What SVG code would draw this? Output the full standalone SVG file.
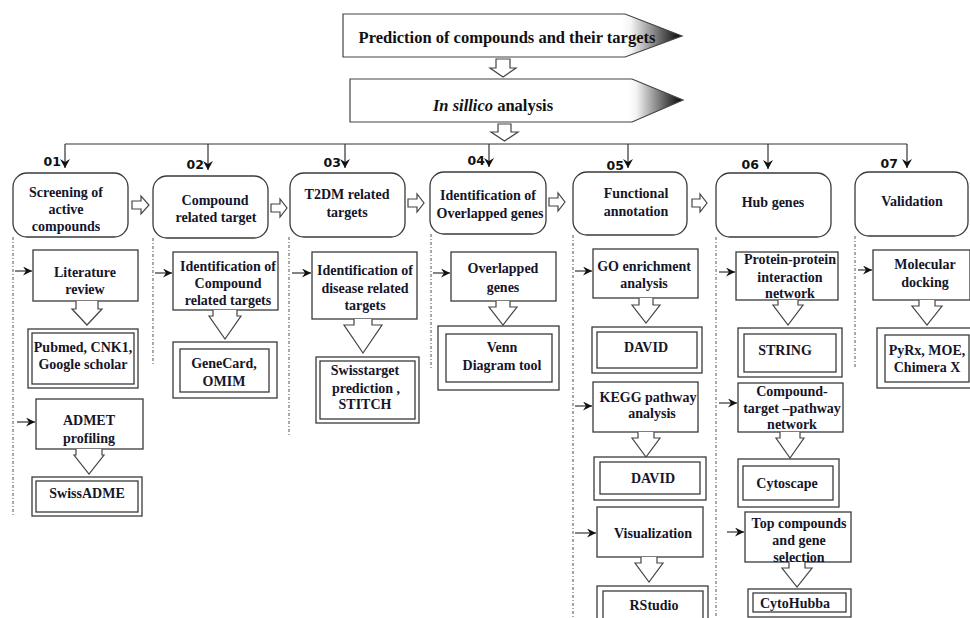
<svg xmlns="http://www.w3.org/2000/svg" width="970" height="618" viewBox="0 0 970 618">
<defs>
<style>
.box{fill:#fff;stroke:#3a3a3a;stroke-width:1.3}
.t{font-family:"Liberation Serif","Times New Roman",serif;font-weight:bold;font-size:14px;fill:#15152a;text-anchor:middle}
.ban{font-family:"Liberation Serif","Times New Roman",serif;font-weight:bold;font-size:16.5px;fill:#111;text-anchor:middle}
.num{font-family:"DejaVu Sans",Verdana,sans-serif;font-weight:bold;font-size:12.5px;fill:#111;text-anchor:end}
.dot{stroke:#555;stroke-width:1;stroke-dasharray:3 2 1 2;fill:none}
.hol{fill:#fff;stroke:#444;stroke-width:1.2;stroke-linejoin:miter}
.conn{stroke:#333;stroke-width:1.2;fill:none}
</style>
<marker id="ah" markerUnits="userSpaceOnUse" markerWidth="10" markerHeight="10" refX="9" refY="5" orient="auto">
<path d="M0,0 L9,5 L0,10 L3,5 Z" fill="#111"/>
</marker>
<marker id="ahs" markerUnits="userSpaceOnUse" markerWidth="10" markerHeight="9" refX="9" refY="4.5" orient="auto">
<path d="M0,0 L9,4.5 L0,9 L3,4.5 Z" fill="#111"/>
</marker>
<linearGradient id="g1" gradientUnits="userSpaceOnUse" x1="622" y1="0" x2="682" y2="0">
<stop offset="0" stop-color="#fff"/><stop offset="0.15" stop-color="#f4f4f4"/><stop offset="1" stop-color="#000"/>
</linearGradient>
<linearGradient id="g2" gradientUnits="userSpaceOnUse" x1="628" y1="0" x2="683" y2="0">
<stop offset="0" stop-color="#fff"/><stop offset="0.15" stop-color="#f4f4f4"/><stop offset="1" stop-color="#000"/>
</linearGradient>
</defs>

<g id="banner1">
<polygon points="343,14 625,14 682,36 625,57 343,57" fill="url(#g1)" stroke="#444" stroke-width="1.2"/>
<text class="ban" x="507" y="43">Prediction of compounds and their targets</text>
</g>
<g id="banner2">
<polygon points="350,79 632,79 683,100 632,122 350,122" fill="url(#g2)" stroke="#444" stroke-width="1.2"/>
<text class="ban" x="493" y="111"><tspan font-style="italic">In sillico</tspan> analysis</text>
</g>

<g id="connectors">
<path class="hol" d="M496,59 L510,59 L510,68 L516,68 L503,77 L490,68 L496,68 Z"/>
<path class="hol" d="M498,124 L511,124 L511,132 L518,132 L504.5,141 L491,132 L498,132 Z"/>
<path class="conn" d="M65,144 L907,144" stroke="#555"/>
<path class="conn" d="M65,144 L65,168" marker-end="url(#ah)"/>
<path class="conn" d="M208,144 L208,170" marker-end="url(#ah)"/>
<path class="conn" d="M345,144 L345,168" marker-end="url(#ah)"/>
<path class="conn" d="M489,144 L489,167" marker-end="url(#ah)"/>
<path class="conn" d="M628,144 L628,168" marker-end="url(#ah)"/>
<path class="conn" d="M768,144 L768,169" marker-end="url(#ah)"/>
<path class="conn" d="M907,144 L907,168" marker-end="url(#ah)"/>
<!-- right hollow arrows -->
<path class="hol" d="M132,201 L141,201 L141,196 L149,205 L141,214 L141,209 L132,209 Z"/>
<path class="hol" d="M271,204 L280,204 L280,199 L287,208 L280,217 L280,212 L271,212 Z"/>
<path class="hol" d="M408,199 L417,199 L417,194 L424,203 L417,212 L417,207 L408,207 Z"/>
<path class="hol" d="M549,198 L558,198 L558,193 L565,202 L558,211 L558,206 L549,206 Z"/>
<path class="hol" d="M692,199 L700,199 L700,194 L707,203 L700,212 L700,207 L692,207 Z"/>
<!-- dotted column lines -->
<path class="dot" d="M13,237 L13,515"/>
<path class="dot" d="M153,238 L153,366"/>
<path class="dot" d="M289,237 L289,437"/>
<path class="dot" d="M431,234 L431,370"/>
<path class="dot" d="M573,235 L573,618"/>
<path class="dot" d="M716,237 L716,618"/>
<path class="dot" d="M855,236 L855,367"/>
<!-- small side arrows -->
<path class="conn" d="M15,271 L32,271" marker-end="url(#ahs)"/>
<path class="conn" d="M17,422 L35,422" marker-end="url(#ahs)"/>
<path class="conn" d="M155,273 L172,273" marker-end="url(#ahs)"/>
<path class="conn" d="M292,273 L311,273" marker-end="url(#ahs)"/>
<path class="conn" d="M433,273 L450,273" marker-end="url(#ahs)"/>
<path class="conn" d="M575,271 L592,271" marker-end="url(#ahs)"/>
<path class="conn" d="M575,406 L592,406" marker-end="url(#ahs)"/>
<path class="conn" d="M575,533 L596,533" marker-end="url(#ahs)"/>
<path class="conn" d="M719,272 L735,272" marker-end="url(#ahs)"/>
<path class="conn" d="M719,403 L737,403" marker-end="url(#ahs)"/>
<path class="conn" d="M727,532 L744,532" marker-end="url(#ahs)"/>
<path class="conn" d="M858,270 L872,270" marker-end="url(#ahs)"/>
</g>

<!-- main step nodes -->
<g id="step01">
<text class="num" x="61" y="166">01</text>
<rect class="box" x="13" y="173" width="115" height="64" rx="14"/>
<text class="t" x="66" y="197">Screening of</text>
<text class="t" x="66" y="214">active</text>
<text class="t" x="66" y="231">compounds</text>
</g>
<g id="step02">
<text class="num" x="204" y="169">02</text>
<rect class="box" x="153" y="176" width="115" height="62" rx="14"/>
<text class="t" x="215" y="205">Compound</text>
<text class="t" x="216" y="222">related target</text>
</g>
<g id="step03">
<text class="num" x="341" y="167">03</text>
<rect class="box" x="290" y="173" width="115" height="64" rx="14"/>
<text class="t" x="347" y="199">T2DM related</text>
<text class="t" x="347" y="217">targets</text>
</g>
<g id="step04">
<text class="num" x="485" y="165">04</text>
<rect class="box" x="430" y="172" width="116" height="62" rx="14"/>
<text class="t" x="488" y="200">Identification of</text>
<text class="t" x="490" y="218">Overlapped genes</text>
</g>
<g id="step05">
<text class="num" x="624" y="170">05</text>
<rect class="box" x="573" y="172" width="114" height="63" rx="14"/>
<text class="t" x="636" y="198">Functional</text>
<text class="t" x="636" y="216">annotation</text>
</g>
<g id="step06">
<text class="num" x="759" y="169">06</text>
<rect class="box" x="716" y="173" width="115" height="64" rx="14"/>
<text class="t" x="773" y="207">Hub genes</text>
</g>
<g id="step07">
<text class="num" x="898" y="168">07</text>
<rect class="box" x="855" y="172" width="113" height="64" rx="14"/>
<text class="t" x="912" y="206">Validation</text>
</g>

<!-- column 1 -->
<g id="literature">
<rect class="box" x="33" y="250" width="105" height="51"/>
<text class="t" x="85" y="277">Literature</text>
<text class="t" x="85" y="294">review</text>
<path class="hol" d="M76,301 L76,309 L72,309 L87,325 L102,309 L98,309 L98,301"/>
</g>
<g id="pubmed">
<rect class="box" x="28" y="329" width="110" height="59"/>
<rect class="box" x="32" y="333" width="102" height="51"/>
<text class="t" x="83" y="352">Pubmed, CNK1,</text>
<text class="t" x="83" y="369">Google scholar</text>
</g>
<g id="admet">
<rect class="box" x="36" y="399" width="107" height="50"/>
<text class="t" x="89" y="425">ADMET</text>
<text class="t" x="89" y="443">profiling</text>
<path class="hol" d="M76,449 L76,455 L74,455 L89,474 L104,455 L102,455 L102,449"/>
</g>
<g id="swissadme">
<rect class="box" x="32" y="477" width="110" height="39"/>
<rect class="box" x="36" y="481" width="102" height="31"/>
<text class="t" x="87" y="498">SwissADME</text>
</g>

<!-- column 2 -->
<g id="compound-targets">
<rect class="box" x="173" y="252" width="105" height="58"/>
<text class="t" x="228" y="271">Identification of</text>
<text class="t" x="228" y="288">Compound</text>
<text class="t" x="228" y="305">related targets</text>
<path class="hol" d="M213,310 L213,316 L209,316 L225,339 L241,316 L237,316 L237,310"/>
</g>
<g id="genecard">
<rect class="box" x="173" y="342" width="104" height="56"/>
<rect class="box" x="180" y="349" width="89" height="43"/>
<text class="t" x="224" y="368">GeneCard,</text>
<text class="t" x="224" y="386">OMIM</text>
</g>

<!-- column 3 -->
<g id="disease-targets">
<rect class="box" x="312" y="252" width="105" height="67"/>
<text class="t" x="365" y="275">Identification of</text>
<text class="t" x="365" y="293">disease related</text>
<text class="t" x="365" y="310">targets</text>
<path class="hol" d="M354,319 L354,325 L344,325 L363,353 L382,325 L372,325 L372,319"/>
</g>
<g id="swisstarget">
<rect class="box" x="316" y="357" width="103" height="66"/>
<rect class="box" x="320" y="361" width="95" height="58"/>
<text class="t" x="365" y="375">Swisstarget</text>
<text class="t" x="366" y="393">prediction ,</text>
<text class="t" x="365" y="409">STITCH</text>
</g>

<!-- column 4 -->
<g id="overlapped">
<rect class="box" x="451" y="252" width="105" height="49"/>
<text class="t" x="503" y="273">Overlapped</text>
<text class="t" x="503" y="292">genes</text>
<path class="hol" d="M496,301 L496,307 L489,307 L503,325 L517,307 L510,307 L510,301"/>
</g>
<g id="venn">
<rect class="box" x="438" y="326" width="121" height="64"/>
<rect class="box" x="446" y="334" width="106" height="48"/>
<text class="t" x="502" y="352">Venn</text>
<text class="t" x="502" y="370">Diagram tool</text>
</g>

<!-- column 5 -->
<g id="go">
<rect class="box" x="593" y="249" width="105" height="49"/>
<text class="t" x="644" y="271">GO enrichment</text>
<text class="t" x="644" y="288">analysis</text>
<path class="hol" d="M639,298 L639,305 L632,305 L646,323 L660,305 L653,305 L653,298"/>
</g>
<g id="david1">
<rect class="box" x="592" y="327" width="110" height="46"/>
<rect class="box" x="597" y="332" width="100" height="36"/>
<text class="t" x="646" y="352">DAVID</text>
</g>
<g id="kegg">
<rect class="box" x="593" y="382" width="105" height="50"/>
<text class="t" x="648" y="402">KEGG pathway</text>
<text class="t" x="652" y="418">analysis</text>
<path class="hol" d="M638,432 L638,438 L632,438 L646,457 L660,438 L654,438 L654,432"/>
</g>
<g id="david2">
<rect class="box" x="594" y="457" width="112" height="43"/>
<rect class="box" x="600" y="462" width="100" height="32"/>
<text class="t" x="653" y="483">DAVID</text>
</g>
<g id="visualization">
<rect class="box" x="597" y="507" width="106" height="50"/>
<text class="t" x="653" y="538">Visualization</text>
<path class="hol" d="M641,557 L641,563 L635,563 L649,582 L663,563 L657,563 L657,557"/>
</g>
<g id="rstudio">
<rect class="box" x="597" y="586" width="111" height="38"/>
<rect class="box" x="603" y="591" width="100" height="28"/>
<text class="t" x="654" y="610">RStudio</text>
</g>

<!-- column 6 -->
<g id="ppi">
<rect class="box" x="736" y="252" width="102" height="48"/>
<text class="t" x="790" y="264">Protein-protein</text>
<text class="t" x="790" y="282">interaction</text>
<text class="t" x="790" y="298">network</text>
<path class="hol" d="M778,300 L778,305 L773,305 L788,325 L803,305 L798,305 L798,300"/>
</g>
<g id="string">
<rect class="box" x="738" y="328" width="104" height="49"/>
<rect class="box" x="744" y="334" width="92" height="38"/>
<text class="t" x="785" y="355">STRING</text>
</g>
<g id="ctp">
<rect class="box" x="738" y="383" width="105" height="49"/>
<text class="t" x="792" y="396">Compound-</text>
<text class="t" x="792" y="413">target –pathway</text>
<text class="t" x="792" y="429">network</text>
<path class="hol" d="M780,432 L780,438 L776,438 L790,458 L804,438 L800,438 L800,432"/>
</g>
<g id="cytoscape">
<rect class="box" x="738" y="459" width="101" height="48"/>
<rect class="box" x="743" y="466" width="90" height="34"/>
<text class="t" x="787" y="488">Cytoscape</text>
</g>
<g id="topcompounds">
<rect class="box" x="745" y="512" width="106" height="50"/>
<text class="t" x="799" y="528">Top compounds</text>
<text class="t" x="799" y="545">and gene</text>
<text class="t" x="799" y="562">selection</text>
<path class="hol" d="M789,562 L789,568 L782,568 L797,587 L812,568 L805,568 L805,562"/>
</g>
<g id="cytohubba">
<rect class="box" x="748" y="589" width="103" height="28"/>
<rect class="box" x="753" y="593" width="93" height="19"/>
<text class="t" x="795" y="608">CytoHubba</text>
</g>

<!-- column 7 -->
<g id="docking">
<rect class="box" x="873" y="250" width="97" height="50"/>
<text class="t" x="925" y="269">Molecular</text>
<text class="t" x="925" y="287">docking</text>
<path class="hol" d="M919,300 L919,306 L912,306 L927,325 L942,306 L935,306 L935,300"/>
</g>
<g id="pyrx">
<rect class="box" x="877" y="328" width="96" height="60"/>
<rect class="box" x="885" y="335" width="84" height="47"/>
<text class="t" x="927" y="355">PyRx, MOE,</text>
<text class="t" x="927" y="372">Chimera X</text>
</g>
</svg>
